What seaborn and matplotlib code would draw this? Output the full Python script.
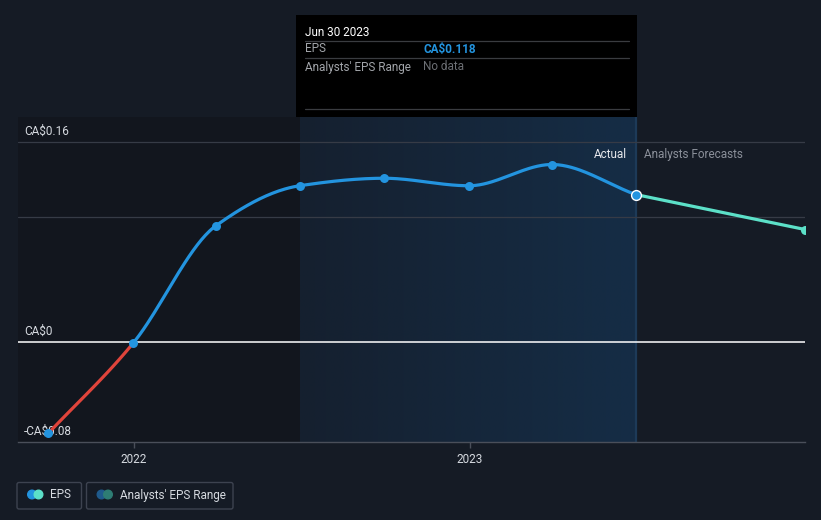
import numpy as np
import pandas as pd
import matplotlib
matplotlib.use("Agg")
import matplotlib.pyplot as plt
import matplotlib.dates as mdates
import seaborn as sns
from matplotlib.patches import FancyBboxPatch, Rectangle, Circle
from matplotlib.colors import LinearSegmentedColormap

# ---------------- data ----------------
actual_dates = ["2021-09-30", "2021-12-31", "2022-03-31", "2022-06-30",
                "2022-09-30", "2022-12-31", "2023-03-31", "2023-06-30"]
actual_eps = [-0.073, -0.001, 0.093, 0.125, 0.131, 0.125, 0.142, 0.118]
forecast_dates = ["2023-06-30", "2023-12-31"]
forecast_eps = [0.118, 0.090]
xtick_dates = ["2022-01-01", "2023-01-01"]
xtick_labels = ["2022", "2023"]
ytick_values = [0.16, 0.0, -0.08]
ytick_labels = ["CA\\$0.16", "CA\\$0", "-CA\\$0.08"]
grid_values = [0.16, 0.10]
highlight_start = "2022-06-30"
split_date = "2023-06-30"
x_range = ["2021-08-28", "2023-12-31"]
y_range = [-0.08, 0.18]

# ---------------- style ----------------
BG = "#151b25"
BLUE = "#2394df"
TEAL = "#5ce0c8"
RED = "#e0443b"
TXT = "#d6dae0"
GREY = "#8b909a"

sns.set_theme(style="dark")
plt.rcParams["font.family"] = ["Roboto", "DejaVu Sans"]

W, H = 821, 520
fig = plt.figure(figsize=(W / 100, H / 100), dpi=100, facecolor=BG)
ax = fig.add_axes([18 / W, (H - 442) / H, 787 / W, 325 / H])
ax.set_facecolor(BG)

d2n = lambda s: mdates.date2num(pd.to_datetime(s))
ax_x = np.array([d2n(d) for d in actual_dates])
ax_y = np.array(actual_eps, dtype=float)
fc_x = np.array([d2n(d) for d in forecast_dates])
fc_y = np.array(forecast_eps, dtype=float)
xmin, xmax = d2n(x_range[0]), d2n(x_range[1])
hs, sp = d2n(highlight_start), d2n(split_date)


def monotone(x, y, n=40):
    """Monotone cubic (Fritsch-Carlson) rendering curve through the points."""
    x = np.asarray(x, float); y = np.asarray(y, float)
    h = np.diff(x); d = np.diff(y) / h
    m = np.zeros_like(y)
    m[0], m[-1] = d[0], d[-1]
    for i in range(1, len(y) - 1):
        if d[i - 1] * d[i] <= 0:
            m[i] = 0
        else:
            w1 = 2 * h[i] + h[i - 1]; w2 = h[i] + 2 * h[i - 1]
            m[i] = (w1 + w2) / (w1 / d[i - 1] + w2 / d[i])
    xs, ys = [], []
    for i in range(len(x) - 1):
        t = np.linspace(0, 1, n, endpoint=(i == len(x) - 2))
        h00 = 2 * t**3 - 3 * t**2 + 1; h10 = t**3 - 2 * t**2 + t
        h01 = -2 * t**3 + 3 * t**2; h11 = t**3 - t**2
        xs.append(x[i] + t * h[i])
        ys.append(h00 * y[i] + h10 * h[i] * m[i] + h01 * y[i + 1] + h11 * h[i] * m[i + 1])
    return np.concatenate(xs), np.concatenate(ys)


# backgrounds
ax.axvspan(xmin, hs, color="#12161e", zorder=0, lw=0)
grad = np.linspace(0, 1, 256).reshape(1, -1)
cmap = LinearSegmentedColormap.from_list("hl", ["#15202f", "#152d46"])
ax.imshow(grad, extent=[hs, sp, y_range[0], y_range[1]], aspect="auto",
          cmap=cmap, zorder=0.5, interpolation="bilinear")
ax.axvline(sp, color="#1d3a58", lw=1.6, zorder=0.6)

# grid
for g in grid_values:
    ax.axhline(g, color="#363b46", lw=0.9, zorder=1)
ax.axhline(0, color="white", lw=1.1, zorder=1.5)

# lines
sx, sy = monotone(ax_x, ax_y)
k = int(np.argmax(sy >= 0))
sns.lineplot(x=sx[:k + 1], y=sy[:k + 1], ax=ax, color=RED, lw=2.3,
             sort=False, estimator=None, zorder=3)
sns.lineplot(x=sx[k:], y=sy[k:], ax=ax, color=BLUE, lw=2.3,
             sort=False, estimator=None, zorder=3)
fx_, fy_ = monotone(fc_x, fc_y)
sns.lineplot(x=fx_, y=fy_, ax=ax, color=TEAL, lw=2.3, sort=False,
             estimator=None, zorder=3)

# markers
sns.scatterplot(x=ax_x[:-1], y=ax_y[:-1], ax=ax, color=BLUE, s=42,
                edgecolor=BLUE, linewidth=0, zorder=5)
sns.scatterplot(x=ax_x[-1:], y=ax_y[-1:], ax=ax, color=BLUE, s=50,
                edgecolor="white", linewidth=1.0, zorder=6)
sns.scatterplot(x=fc_x[-1:], y=fc_y[-1:], ax=ax, color=TEAL, s=42,
                edgecolor=TEAL, linewidth=0, zorder=5)

ax.set_xlim(xmin, xmax)
ax.set_ylim(*y_range)

# axes styling
for s in ["top", "right", "left"]:
    ax.spines[s].set_visible(False)
ax.spines["bottom"].set_color("#4a4f5a")
ax.spines["bottom"].set_linewidth(1.0)
ax.set_xticks([d2n(d) for d in xtick_dates])
ax.set_xticklabels(xtick_labels)
ax.set_yticks([])
ax.tick_params(axis="x", colors="#4a4f5a", length=4, width=1, labelcolor=TXT,
               labelsize=8.5, pad=4, bottom=True)
ax.set_xlabel(""); ax.set_ylabel("")
ax.grid(False)

# y labels inside plot
for v, lab in zip(ytick_values, ytick_labels):
    ax.annotate(lab, xy=(0, v), xycoords=("axes fraction", "data"),
                xytext=(4.5, 3), textcoords="offset points", ha="left",
                va="bottom", color=TXT, fontsize=8.5, zorder=2)

# Actual / Forecast labels
ax.annotate("Actual", xy=(sp, 0.886), xycoords=("data", "axes fraction"),
            xytext=(-6, 0), textcoords="offset points", ha="right", va="center",
            color="#e6e8ec", fontsize=8.5)
ax.annotate("Analysts Forecasts", xy=(sp, 0.886), xycoords=("data", "axes fraction"),
            xytext=(6, 0), textcoords="offset points", ha="left", va="center",
            color=GREY, fontsize=8.5)

# ---------------- overlay (tooltip + legend) ----------------
ov = fig.add_axes([0, 0, 1, 1], facecolor="none")
ov.set_xlim(0, W); ov.set_ylim(H, 0); ov.axis("off")

ov.add_patch(Rectangle((296, 15), 341, 102, facecolor="black", edgecolor="none"))
for yy in [41, 58, 109]:
    ov.plot([305, 629], [yy, yy], color="#3a3c40", lw=0.9)
ov.text(305, 32, "Jun 30 2023", color="white", fontsize=8.5, va="center", ha="left")
ov.text(305, 49, "EPS", color="#a2a5aa", fontsize=8.5, va="center")
ov.text(423, 49, "CA\\$0.118", color=BLUE, fontsize=8.5, va="center", fontweight="bold")
ov.text(305, 67, "Analysts' EPS Range", color="#a2a5aa", fontsize=8.5, va="center")
ov.text(423, 67, "No data", color="#6c6f74", fontsize=8.5, va="center")

# legend
for (x0, x1) in [(17, 81.5), (86.5, 233)]:
    ov.add_patch(FancyBboxPatch((x0, 482.5), x1 - x0, 26.5,
                                boxstyle="round,pad=0,rounding_size=2",
                                facecolor=BG, edgecolor="#3d4350", lw=1))
ov.add_patch(Circle((32, 494.5), 4.3, color=BLUE))
ov.add_patch(Circle((38.5, 494.5), 4.3, color=TEAL))
ov.text(50, 495, "EPS", color=TXT, fontsize=8.5, va="center")
ov.add_patch(Circle((101.5, 494.5), 4.3, color="#1f5a8c"))
ov.add_patch(Circle((108, 494.5), 4.3, color="#2e7d74"))
ov.text(120.5, 495, "Analysts' EPS Range", color=TXT, fontsize=8.5, va="center")

fig.savefig("out.png", dpi=100, facecolor=BG)
